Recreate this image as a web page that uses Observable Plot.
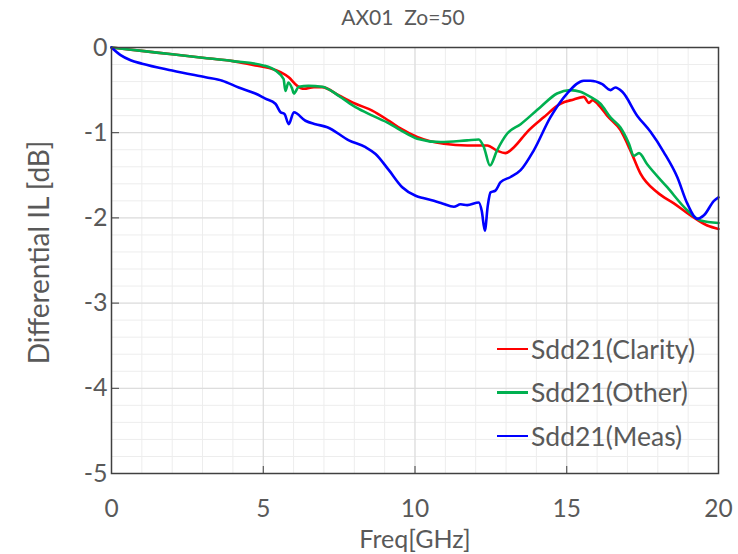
<!DOCTYPE html>
<html>
<head>
<meta charset="utf-8">
<script src="https://cdn.jsdelivr.net/npm/d3@7"></script>
<script src="https://cdn.jsdelivr.net/npm/@observablehq/plot@0.6"></script>
<style>
  html, body { margin: 0; padding: 0; background: #fff; }
  #wrap { position: relative; width: 738px; height: 554px; font-family: Lato, "Open Sans", sans-serif; }
  #title { position: absolute; top: 4px; left: 0; width: 806px; text-align: center; font-size: 21px; color: #595959; }
  #legend { position: absolute; left: 497px; top: 327px; font-size: 26.5px; color: #595959; }
  #legend .row { display: flex; align-items: center; height: 43.5px; }
  #legend .sw { width: 31px; height: 2.5px; margin-right: 3px; }
</style>
</head>
<body>
<div id="wrap">
  <div id="chart"></div>
  <div id="title">AX01&nbsp;&nbsp;Zo=50</div>
  <div id="legend"></div>
</div>
<script>
const seriesNames = ["Sdd21(Clarity)", "Sdd21(Other)", "Sdd21(Meas)"];
const seriesColors = ["#ff0000", "#00b050", "#0000ff"];

const clarityFreq = [0,1,2,3,4,4.74,5.2,5.57,5.84,6.12,6.34,6.67,6.94,7.48,8.04,8.59,9.14,9.52,10.07,10.95,11.72,12.38,12.7,12.98,13.26,13.7,14.24,14.79,15.23,15.56,15.73,15.84,16.11,16.33,16.77,17.1,17.43,17.98,18.53,19.08,19.63,20];
const clarityDb   = [0,-0.04,-0.08,-0.12,-0.16,-0.21,-0.24,-0.29,-0.35,-0.45,-0.485,-0.465,-0.465,-0.56,-0.66,-0.74,-0.86,-0.95,-1.05,-1.13,-1.15,-1.15,-1.21,-1.24,-1.17,-0.99,-0.82,-0.66,-0.61,-0.58,-0.65,-0.62,-0.70,-0.80,-0.97,-1.21,-1.48,-1.70,-1.83,-1.97,-2.09,-2.13];

const otherFreq = [0,1,2,3,4,5,5.4,5.67,5.73,5.83,5.95,6.01,6.17,6.49,6.94,7.5,8.04,8.6,9.14,9.52,10.07,10.84,11.72,12.1,12.27,12.47,12.7,13.04,13.48,14.13,14.68,15.12,15.45,15.78,16.11,16.44,16.77,17.05,17.21,17.38,17.65,18.31,18.97,19.41,20];
const otherDb   = [0,-0.04,-0.08,-0.12,-0.16,-0.21,-0.27,-0.37,-0.51,-0.41,-0.48,-0.54,-0.46,-0.45,-0.46,-0.57,-0.70,-0.80,-0.89,-0.97,-1.07,-1.11,-1.09,-1.08,-1.17,-1.385,-1.21,-1.01,-0.90,-0.70,-0.54,-0.50,-0.52,-0.58,-0.66,-0.82,-0.94,-1.13,-1.27,-1.24,-1.37,-1.64,-1.91,-2.03,-2.06];

const measFreq = [0,0.3,0.63,1.01,2.0,3.1,3.65,4.19,4.74,5.07,5.4,5.57,5.7,5.84,6.01,6.39,6.72,7.11,7.82,8.37,8.70,9.14,9.58,10.02,10.3,10.62,10.9,11.28,11.5,11.72,12.1,12.2,12.30,12.4,12.49,12.65,12.82,13.15,13.48,13.91,14.46,15.01,15.56,15.78,16.17,16.44,16.6,16.83,17.32,17.76,18.2,18.64,18.97,19.3,19.52,19.85,20];
const measDb   = [0,-0.09,-0.15,-0.19,-0.27,-0.35,-0.39,-0.47,-0.54,-0.60,-0.66,-0.76,-0.78,-0.90,-0.76,-0.86,-0.90,-0.935,-1.09,-1.17,-1.25,-1.44,-1.64,-1.74,-1.77,-1.80,-1.83,-1.87,-1.84,-1.85,-1.82,-1.92,-2.15,-1.85,-1.70,-1.68,-1.58,-1.52,-1.44,-1.21,-0.82,-0.54,-0.39,-0.39,-0.43,-0.50,-0.47,-0.52,-0.80,-0.99,-1.23,-1.52,-1.83,-2.01,-1.97,-1.80,-1.76];

const xTicks = [0, 5, 10, 15, 20];
const yTicks = [0, -1, -2, -3, -4, -5];
const xMinor = d3.range(0, 21, 1);
const yMinor = d3.range(0, 26, 1).map(i => -i * 0.2);

function toRows(fs, ds, name) { return fs.map((f, i) => ({f, d: ds[i], name})); }
const rows = [
  ...toRows(clarityFreq, clarityDb, seriesNames[0]),
  ...toRows(otherFreq, otherDb, seriesNames[1]),
  ...toRows(measFreq, measDb, seriesNames[2])
];

const chart = Plot.plot({
  width: 738,
  height: 554,
  marginLeft: 111,
  marginRight: 20,
  marginTop: 47,
  marginBottom: 81,
  style: {fontFamily: "Lato, 'Open Sans', sans-serif", color: "#595959", background: "#fff"},
  x: {domain: [0, 20], label: null},
  y: {domain: [-5, 0], label: null},
  color: {domain: seriesNames, range: seriesColors},
  marks: [
    Plot.gridX(xMinor, {stroke: "#ededed", strokeOpacity: 1}),
    Plot.gridY(yMinor, {stroke: "#ededed", strokeOpacity: 1}),
    Plot.gridX(xTicks, {stroke: "#d9d9d9", strokeOpacity: 1}),
    Plot.gridY(yTicks, {stroke: "#d9d9d9", strokeOpacity: 1}),
    Plot.line(rows, {x: "f", y: "d", z: "name", stroke: "name", strokeWidth: 2.6, curve: "monotone-x"}),
    Plot.frame({stroke: "#404040", strokeWidth: 1.5}),
    Plot.axisX(xTicks, {tickSize: -7, tickPadding: 33, fontSize: 24.5, stroke: "#404040", color: "#595959"}),
    Plot.axisY(yTicks, {tickSize: -8, tickPadding: 12, fontSize: 25, stroke: "#404040", color: "#595959", tickFormat: d => d === 0 ? "0" : "-" + Math.abs(d)}),
    Plot.text(["Freq[GHz]"], {frameAnchor: "bottom", lineAnchor: "middle", dy: 66, dx: 0, fontSize: 25, fill: "#595959"}),
    Plot.text(["Differential IL [dB]"], {frameAnchor: "left", textAnchor: "middle", dx: -71, dy: -8, rotate: -90, fontSize: 28, fill: "#595959"})
  ]
});
document.getElementById("chart").appendChild(chart);

const legend = document.getElementById("legend");
seriesNames.forEach((n, i) => {
  const row = document.createElement("div");
  row.className = "row";
  const sw = document.createElement("div");
  sw.className = "sw";
  sw.style.background = seriesColors[i];
  const t = document.createElement("span");
  t.textContent = n;
  row.appendChild(sw);
  row.appendChild(t);
  legend.appendChild(row);
});
</script>
</body>
</html>
